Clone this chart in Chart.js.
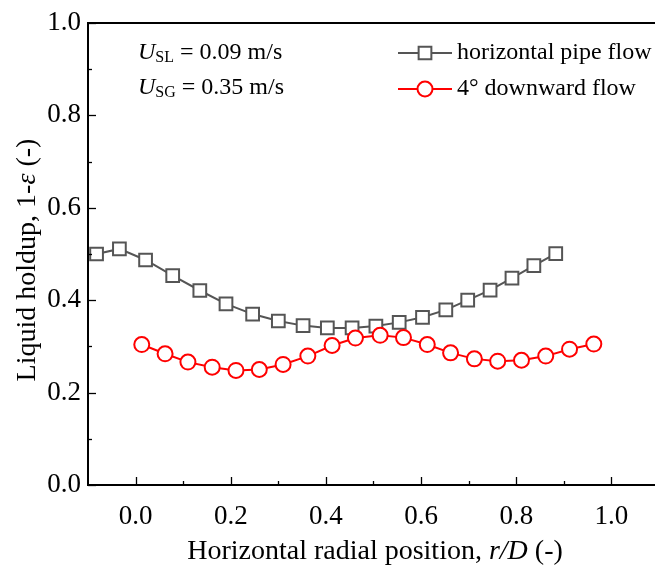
<!DOCTYPE html>
<html>
<head>
<meta charset="utf-8">
<script src="https://cdn.jsdelivr.net/npm/chart.js@4.4.1/dist/chart.umd.min.js"></script>
<style>
  html, body { margin: 0; padding: 0; background: #fff; overflow: hidden; width: 655px; height: 571px; }
  canvas { display: block; }
</style>
</head>
<body>
<canvas id="chart" width="670" height="571"></canvas>
<script>
// Horizontal pipe flow: radial position r/D and liquid holdup 1-ε
const horizR = [-0.082, -0.034, 0.021, 0.078, 0.135, 0.190, 0.246, 0.300, 0.352, 0.403,
                0.455, 0.505, 0.554, 0.603, 0.652, 0.698, 0.745, 0.791, 0.837, 0.883];
const horizHoldup = [0.500, 0.511, 0.487, 0.453, 0.421, 0.392, 0.370, 0.355, 0.345, 0.340,
                     0.340, 0.344, 0.352, 0.363, 0.379, 0.400, 0.422, 0.448, 0.475, 0.501];

// 4° downward flow
const downR = [0.013, 0.062, 0.110, 0.161, 0.211, 0.260, 0.310, 0.362, 0.413, 0.462,
               0.514, 0.563, 0.613, 0.662, 0.712, 0.761, 0.811, 0.862, 0.912, 0.963];
const downHoldup = [0.304, 0.284, 0.266, 0.255, 0.248, 0.250, 0.261, 0.279, 0.302, 0.318,
                    0.324, 0.319, 0.304, 0.286, 0.273, 0.268, 0.270, 0.279, 0.294, 0.305];

const seriesNames = ['horizontal pipe flow', '4\u00B0 downward flow'];

// Axis ticks
const xMajorTicks = [0.0, 0.2, 0.4, 0.6, 0.8, 1.0];
const xMinorTicks = [0.1, 0.3, 0.5, 0.7, 0.9];
const yMajorTicks = [0.0, 0.2, 0.4, 0.6, 0.8, 1.0];
const yMinorTicks = [0.1, 0.3, 0.5, 0.7, 0.9];
const xTickLabels = ['0.0', '0.2', '0.4', '0.6', '0.8', '1.0'];
const yTickLabels = ['0.0', '0.2', '0.4', '0.6', '0.8', '1.0'];

const SERIF = '"Liberation Serif", "Times New Roman", serif';
const GRAY = '#555555';
const RED = '#ff0000';

const toPoints = (xs, ys) => xs.map((x, i) => ({ x: x, y: ys[i] }));

// Inward major/minor tick marks on the bottom and left axes
const inwardTicks = {
  id: 'inwardTicks',
  afterDraw(chart) {
    const ctx = chart.ctx;
    const xs = chart.scales.x, ys = chart.scales.y;
    const area = chart.chartArea;
    ctx.save();
    ctx.strokeStyle = '#000';
    ctx.lineWidth = 1.3;
    const drawX = (v, len) => {
      const px = Math.round(xs.getPixelForValue(v)) + 0.5;
      ctx.beginPath(); ctx.moveTo(px, area.bottom); ctx.lineTo(px, area.bottom - len); ctx.stroke();
    };
    const drawY = (v, len) => {
      const py = Math.round(ys.getPixelForValue(v)) + 0.5;
      ctx.beginPath(); ctx.moveTo(area.left, py); ctx.lineTo(area.left + len, py); ctx.stroke();
    };
    xMajorTicks.forEach(v => drawX(v, 8));
    xMinorTicks.forEach(v => drawX(v, 4));
    yMajorTicks.forEach(v => drawY(v, 8));
    yMinorTicks.forEach(v => drawY(v, 4));
    ctx.restore();
  }
};

// Draws a run of text pieces with their own fonts, starting at x
function drawRuns(ctx, runs, x, y) {
  let cx = x;
  runs.forEach(r => {
    ctx.font = r.font;
    ctx.fillText(r.text, cx, y + (r.dy || 0));
    cx += ctx.measureText(r.text).width;
  });
  return cx;
}
function runsWidth(ctx, runs) {
  let w = 0;
  runs.forEach(r => { ctx.font = r.font; w += ctx.measureText(r.text).width; });
  return w;
}

// Axis titles, flow-condition note and legend
const annotations = {
  id: 'annotations',
  afterDraw(chart) {
    const ctx = chart.ctx;
    const area = chart.chartArea;
    ctx.save();
    ctx.fillStyle = '#000';
    ctx.textBaseline = 'middle';
    ctx.textAlign = 'left';

    // x-axis title
    const xRuns = [
      { text: 'Horizontal radial position, ', font: `28px ${SERIF}` },
      { text: 'r/D', font: `italic 28px ${SERIF}` },
      { text: ' (-)', font: `28px ${SERIF}` }
    ];
    const xw = runsWidth(ctx, xRuns);
    drawRuns(ctx, xRuns, 375 - xw / 2, 552);

    // y-axis title
    const yRuns = [
      { text: 'Liquid holdup, 1-', font: `28px ${SERIF}` },
      { text: '\u03B5', font: `italic 28px ${SERIF}` },
      { text: ' (-)', font: `28px ${SERIF}` }
    ];
    const yw = runsWidth(ctx, yRuns);
    ctx.save();
    ctx.translate(28, (area.top + area.bottom) / 2 + 6);
    ctx.rotate(-Math.PI / 2);
    drawRuns(ctx, yRuns, -yw / 2, 0);
    ctx.restore();

    // flow conditions
    drawRuns(ctx, [
      { text: 'U', font: `italic 24px ${SERIF}` },
      { text: 'SL', font: `16px ${SERIF}`, dy: 5 },
      { text: ' = 0.09 m/s', font: `24px ${SERIF}` }
    ], 138, 53);
    drawRuns(ctx, [
      { text: 'U', font: `italic 24px ${SERIF}` },
      { text: 'SG', font: `16px ${SERIF}`, dy: 5 },
      { text: ' = 0.35 m/s', font: `24px ${SERIF}` }
    ], 138, 88);

    // legend
    const lx0 = 398, lx1 = 452, mx = 425;
    const rows = [
      { y: 53, color: GRAY, shape: 'rect', label: seriesNames[0] },
      { y: 89, color: RED, shape: 'circle', label: seriesNames[1] }
    ];
    rows.forEach(r => {
      ctx.strokeStyle = r.color;
      ctx.lineWidth = 2;
      ctx.beginPath(); ctx.moveTo(lx0, r.y); ctx.lineTo(lx1, r.y); ctx.stroke();
      ctx.fillStyle = '#fff';
      ctx.beginPath();
      if (r.shape === 'rect') {
        const s = 9 * Math.SQRT1_2;
        ctx.rect(mx - s, r.y - s, 2 * s, 2 * s);
      } else {
        ctx.arc(mx, r.y, 7.5, 0, Math.PI * 2);
      }
      ctx.fill(); ctx.stroke();
      ctx.fillStyle = '#000';
      ctx.font = `24px ${SERIF}`;
      ctx.fillText(r.label, 457, r.y);
    });
    ctx.restore();
  }
};

const noEdgePadding = (s) => { s.paddingLeft = 0; s.paddingRight = 0; };

new Chart(document.getElementById('chart'), {
  type: 'line',
  data: {
    datasets: [
      {
        label: seriesNames[1],
        data: toPoints(downR, downHoldup),
        borderColor: RED,
        backgroundColor: '#fff',
        borderWidth: 2,
        pointStyle: 'circle',
        pointRadius: 7.5,
        pointBorderWidth: 2,
        pointBackgroundColor: '#fff',
        pointBorderColor: RED,
        tension: 0,
        order: 0
      },
      {
        label: seriesNames[0],
        data: toPoints(horizR, horizHoldup),
        borderColor: GRAY,
        backgroundColor: '#fff',
        borderWidth: 2,
        pointStyle: 'rect',
        pointRadius: 9,
        pointBorderWidth: 2,
        pointBackgroundColor: '#fff',
        pointBorderColor: GRAY,
        tension: 0,
        order: 1
      }
    ]
  },
  options: {
    responsive: false,
    animation: false,
    devicePixelRatio: 1,
    layout: { padding: { top: 23, left: 0, right: 0, bottom: 0 } },
    plugins: { legend: { display: false }, tooltip: { enabled: false } },
    scales: {
      x: {
        type: 'linear',
        position: 'bottom',
        min: -0.1,
        max: 1.1,
        grid: { display: false, drawTicks: false },
        border: { display: true, color: '#000', width: 2 },
        ticks: {
          color: '#000',
          font: { family: SERIF, size: 27 },
          padding: 16,
          maxRotation: 0,
          autoSkip: false,
          callback: (v) => xTickLabels[xMajorTicks.findIndex(t => Math.abs(t - v) < 1e-9)]
        },
        afterBuildTicks: (s) => { s.ticks = xMajorTicks.map(v => ({ value: v })); },
        afterFit: (s) => { s.height = 86; noEdgePadding(s); }
      },
      xTop: {
        type: 'linear',
        position: 'top',
        min: -0.1,
        max: 1.1,
        grid: { display: false, drawTicks: false },
        border: { display: true, color: '#000', width: 2 },
        ticks: { display: false },
        afterFit: (s) => { s.height = 0; noEdgePadding(s); }
      },
      y: {
        type: 'linear',
        position: 'left',
        min: 0,
        max: 1,
        grid: { display: false, drawTicks: false },
        border: { display: true, color: '#000', width: 2 },
        ticks: {
          color: '#000',
          font: { family: SERIF, size: 27 },
          padding: 7,
          autoSkip: false,
          callback: (v) => yTickLabels[yMajorTicks.findIndex(t => Math.abs(t - v) < 1e-9)]
        },
        afterBuildTicks: (s) => { s.ticks = yMajorTicks.map(v => ({ value: v })); },
        afterFit: (s) => { s.width = 88; s.paddingTop = 0; s.paddingBottom = 0; }
      }
    }
  },
  plugins: [inwardTicks, annotations]
});
</script>
</body>
</html>
